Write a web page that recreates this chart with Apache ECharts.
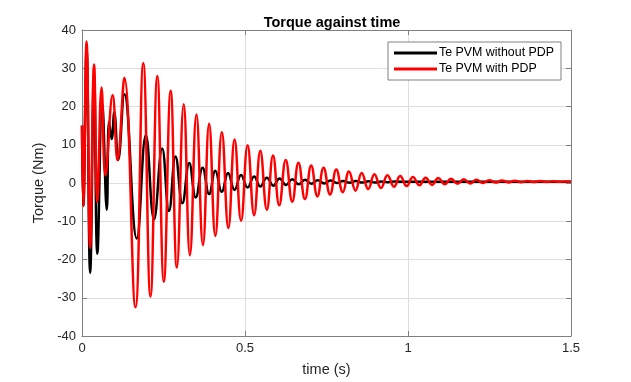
<!DOCTYPE html>
<html>
<head>
<meta charset="utf-8">
<script src="https://cdn.jsdelivr.net/npm/echarts@6/dist/echarts.min.js"></script>
<style>html,body{margin:0;padding:0;background:#fff;}#c{width:631px;height:382px;}</style>
</head>
<body>
<div id="c"></div>
<script>
// Extrema (time s, torque Nm)
const blackTime = [0.000,0.004,0.014,0.025,0.037,0.047,0.062,0.076,0.083,0.091,0.099,0.111,0.130,0.168,0.196,0.221,0.246,0.267,0.287,0.308,0.329,0.349,0.370,0.390,0.409,0.429,0.448,0.468,0.488,0.508,0.528,0.547,0.567,0.587,0.606,0.626,0.645,0.665,0.684,0.704,0.723,0.743,0.762,0.782,0.801,0.821,0.840,0.860,0.879,0.899,0.918,0.938,0.957,1.000,1.250,1.500];
const blackTorque = [15,-6,35,-23.5,28,-18.5,21,-7,16,11.5,18.5,6,23.2,-14.5,12.5,-9.5,9.0,-7.3,6.9,-5.3,5.2,-3.8,4.0,-2.9,3.2,-2.3,2.6,-1.8,2.1,-1.2,1.7,-0.9,1.4,-0.7,1.2,-0.5,1.0,-0.35,0.85,-0.2,0.75,-0.1,0.65,0.0,0.55,0.05,0.5,0.1,0.45,0.15,0.4,0.2,0.38,0.32,0.3,0.3];

const redTime = [0.000,0.004,0.014,0.025,0.037,0.047,0.060,0.072,0.094,0.109,0.130,0.164,0.188,0.210,0.231,0.251,0.272,0.291,0.312,0.331,0.351,0.371,0.390,0.409,0.429,0.449,0.468,0.488,0.508,0.528,0.547,0.567,0.586,0.605,0.625,0.645,0.664,0.684,0.703,0.722,0.741,0.761,0.780,0.800,0.819,0.839,0.858,0.878,0.897,0.917,0.937,0.957,0.976,0.996,1.015,1.035,1.054,1.074,1.093,1.113,1.132,1.152,1.171,1.191,1.210,1.230,1.249,1.269,1.288,1.308,1.327,1.347,1.367,1.386,1.406,1.426,1.445,1.465,1.484,1.500];
const redTorque = [15,-6,37,-17,31,-5,25,2,23,6,27.5,-32.5,31.4,-29.7,28,-25.8,24.1,-22.1,20.6,-18.9,17.9,-16.2,15.5,-13.8,13.3,-11.8,11.4,-9.9,9.9,-8.4,8.4,-7.0,7.2,-5.8,6.0,-4.9,5.3,-4.2,4.6,-3.5,4.0,-3.0,3.5,-2.4,3.0,-2.0,2.6,-1.6,2.3,-1.3,2.0,-1.0,1.8,-0.8,1.6,-0.6,1.4,-0.5,1.3,-0.3,1.1,-0.2,1.0,-0.1,0.85,0.0,0.75,0.1,0.65,0.15,0.6,0.2,0.55,0.25,0.5,0.28,0.45,0.3,0.42,0.35];

const seriesNames = ['Te PVM without PDP', 'Te PVM with PDP'];
const xTicks = [0, 0.5, 1, 1.5];
const yTicks = [-40, -30, -20, -10, 0, 10, 20, 30, 40];

const pairs = (t, v) => t.map((x, i) => [x, v[i]]);
const FONT = 'Liberation Sans, Arial, sans-serif';
const AX = '#262626';
const FRAME = '#808080';

const chart = echarts.init(document.getElementById('c'), null, {renderer: 'canvas'});
const baseX = {
  type: 'value', min: xTicks[0], max: xTicks[xTicks.length - 1], interval: 0.5,
  axisLine: {show: true, onZero: false, lineStyle: {color: FRAME, width: 1}},
  axisTick: {show: true, inside: true, length: 5, lineStyle: {color: FRAME}},
  splitLine: {show: false}
};
const baseY = {
  type: 'value', min: yTicks[0], max: yTicks[yTicks.length - 1], interval: 10,
  axisLine: {show: true, onZero: false, lineStyle: {color: FRAME, width: 1}},
  axisTick: {show: true, inside: true, length: 5, lineStyle: {color: FRAME}},
  splitLine: {show: false}
};
chart.setOption({
  animation: false,
  backgroundColor: '#ffffff',
  title: {
    text: 'Torque against time', left: 327, top: 10, textAlign: 'center',
    textStyle: {fontFamily: FONT, fontSize: 14.5, fontWeight: 'bold', color: '#000'}
  },
  grid: {left: 82, right: 60, top: 30, bottom: 42, containLabel: false},
  legend: {
    data: seriesNames, orient: 'vertical', left: 388, top: 42,
    backgroundColor: '#fff', borderColor: FRAME, borderWidth: 1,
    padding: [4, 7, 4, 6], itemGap: 2, itemWidth: 43, itemHeight: 3, icon: 'rect',
    textStyle: {fontFamily: FONT, fontSize: 12.4, color: '#000', lineHeight: 14, padding: [0, 0, 0, -3]}
  },
  xAxis: [
    Object.assign({}, baseX, {
      position: 'bottom',
      name: 'time (s)', nameLocation: 'middle', nameGap: 26,
      nameTextStyle: {fontFamily: FONT, fontSize: 14.5, color: AX},
      axisLabel: {show: true, margin: 6, fontFamily: FONT, fontSize: 13, color: AX},
      splitLine: {show: true, lineStyle: {color: '#dedede', width: 1}}
    }),
    Object.assign({}, baseX, {position: 'top', axisLabel: {show: false}})
  ],
  yAxis: [
    Object.assign({}, baseY, {
      position: 'left',
      name: 'Torque (Nm)', nameLocation: 'middle', nameGap: 27,
      nameTextStyle: {fontFamily: FONT, fontSize: 14.5, color: AX},
      axisLabel: {show: true, margin: 6, fontFamily: FONT, fontSize: 13, color: AX},
      splitLine: {show: true, lineStyle: {color: '#dedede', width: 1}}
    }),
    Object.assign({}, baseY, {position: 'right', axisLabel: {show: false}})
  ],
  series: [
    {
      name: seriesNames[0], type: 'line', data: pairs(blackTime, blackTorque),
      smooth: 0.45, symbol: 'none', showSymbol: false,
      lineStyle: {color: '#000000', width: 2.5}, itemStyle: {color: '#000000'}, z: 2
    },
    {
      name: seriesNames[1], type: 'line', data: pairs(redTime, redTorque),
      smooth: 0.45, symbol: 'none', showSymbol: false,
      lineStyle: {color: '#ff0000', width: 2.5}, itemStyle: {color: '#ff0000'}, z: 3
    }
  ]
});
</script>
</body>
</html>
